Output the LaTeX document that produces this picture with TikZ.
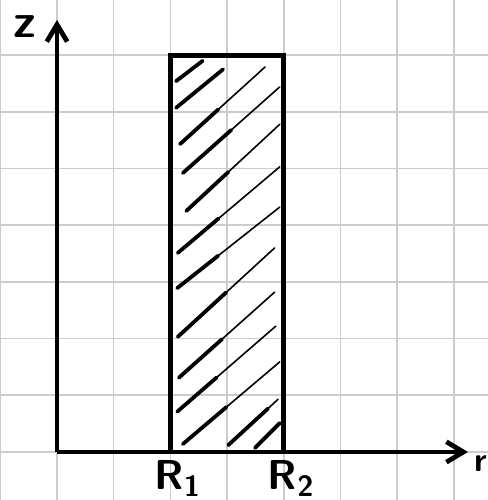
\documentclass[tikz,border=0pt]{standalone}
\usepackage{tikz}
\usetikzlibrary{arrows.meta,positioning,calc}

\begin{document}
\begin{tikzpicture}[
    node distance=0.2cm,
    gridline/.style={draw=gray!40, line width=0.8pt},
    axis/.style={-{Straight Barb[length=3mm,width=3.6mm]}, line width=2.4pt},
    wall/.style={line width=2.4pt, line join=miter},
    hatchthin/.style={line width=0.8pt, line cap=round},
    hatchthick/.style={line width=1.9pt, line cap=round},
    lab/.style={inner sep=0pt, font=\sffamily\bfseries\fontsize{21}{24}\selectfont},
]
    % Frame and grid paper
    \useasboundingbox (-1.005,-0.847) rectangle (7.601,7.972);
    \clip (-1.005,-0.847) rectangle (7.601,7.972);
    \fill[white] (-1.005,-0.847) rectangle (7.601,7.972);
    \draw[gridline] (-1,-1) grid (8,9);

    % Corners
    \coordinate (O) at (0,0);
    \coordinate (zend) at (0,7.62);
    \coordinate (rend) at (7.25,0);
    \coordinate (A) at (2,0);
    \coordinate (B) at (4,0);
    \coordinate (C) at (4,7);
    \coordinate (D) at (2,7);

    % Hatching (thick start, thin tail)
    \foreach \xa/\ya/\xb/\yb/\f in {
        2.10/6.54/2.57/6.90/1.0,
        2.10/6.07/2.93/6.75/1.0,
        2.17/5.43/3.67/6.79/0.45,
        2.22/4.92/3.93/6.44/0.5,
        2.28/4.25/3.93/5.78/0.45,
        2.13/3.51/3.93/5.03/0.4,
        2.12/2.89/3.93/4.32/0.4,
        2.13/2.03/3.84/3.60/0.5,
        2.15/1.31/3.84/2.82/0.45,
        2.12/0.71/3.86/2.22/0.4,
        2.22/0.14/3.93/1.59/0.45,
        3.02/0.12/3.90/0.93/0.8,
        3.49/0.07/3.93/0.51/1.0}
    {
        \draw[hatchthin] (\xa,\ya) -- (\xb,\yb);
        \draw[hatchthick] (\xa,\ya) -- ($(\xa,\ya)!\f!(\xb,\yb)$);
    }

    % Walls of the ring
    \draw[wall] (A) -- (D) -- (C) -- (B);

    % Axes
    \draw[axis] (O) -- (zend);
    \draw[axis] (O) -- (rend);

    % Labels
    \node[lab, font=\sffamily\bfseries\fontsize{24}{26}\selectfont] (zlab) at (-0.56,7.51) {z};
    \node[lab, font=\sffamily\bfseries\fontsize{17}{20}\selectfont, anchor=west] (rlab) at (7.36,-0.2) {r};
    \node[lab, below=0.15cm of A, anchor=north, xshift=0.13cm] (Rone) {R\textsubscript{1}};
    \node[lab, below=0.15cm of B, anchor=north, xshift=0.13cm] (Rtwo) {R\textsubscript{2}};
\end{tikzpicture}
\end{document}
